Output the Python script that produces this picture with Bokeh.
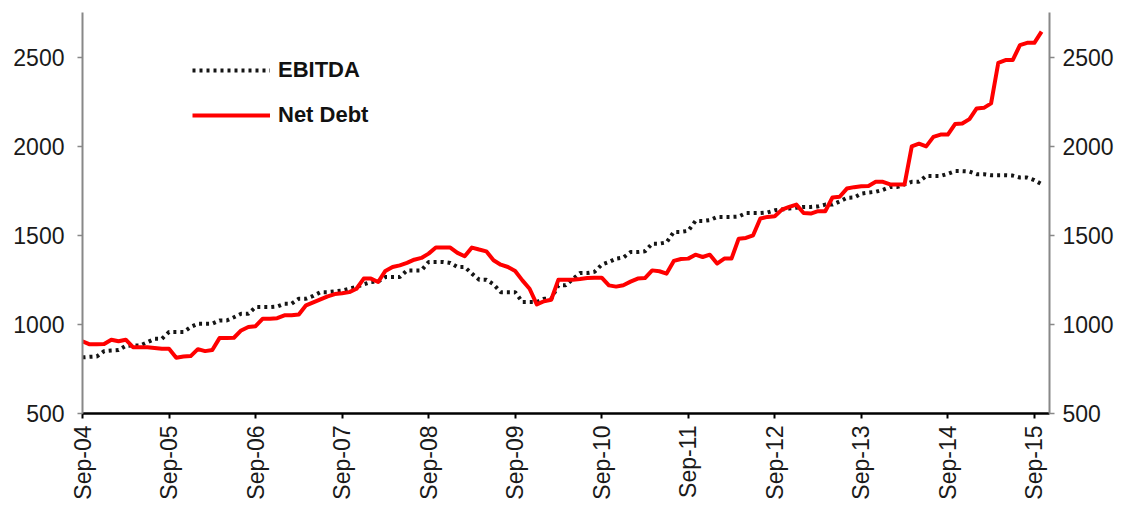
from bokeh.plotting import figure
from bokeh.models import Range1d, LinearAxis, FixedTicker, Legend, LegendItem
from bokeh.embed import file_html
from bokeh.resources import INLINE
import math

# Monthly data, Sep-04 (month 0) to Oct-15 (month 133)
ebitda = [815, 818, 820, 850, 854, 856, 880, 882, 882, 900, 919, 919,
          957, 957, 957, 985, 1004, 1004, 1004, 1022, 1022, 1040, 1060, 1060,
          1097, 1097, 1097, 1100, 1116, 1116, 1144, 1144, 1160, 1181, 1181, 1185,
          1190, 1200, 1210, 1225, 1238, 1240, 1266, 1266, 1266, 1303, 1303, 1303,
          1350, 1350, 1350, 1345, 1322, 1322, 1285, 1251, 1251, 1225, 1181, 1181,
          1181, 1125, 1125, 1125, 1144, 1144, 1219, 1219, 1255, 1288, 1288, 1295,
          1335, 1350, 1369, 1375, 1406, 1406, 1410, 1453, 1453, 1460, 1519, 1519,
          1525, 1580, 1580, 1585, 1603, 1603, 1603, 1605, 1625, 1625, 1625, 1628,
          1640, 1645, 1650, 1655, 1659, 1659, 1662, 1672, 1672, 1690, 1710, 1712,
          1734, 1740, 1744, 1755, 1771, 1771, 1785, 1800, 1800, 1833, 1833, 1833,
          1845, 1860, 1860, 1858, 1843, 1843, 1837, 1837, 1837, 1835, 1824, 1824,
          1809, 1787]

net_debt = [905, 888, 888, 890, 914, 905, 914, 872, 872, 872, 868, 863,
            863, 813, 820, 822, 861, 850, 856, 923, 923, 925, 966, 985,
            990, 1032, 1032, 1035, 1051, 1051, 1055, 1107, 1124, 1140, 1157, 1170,
            1175, 1181, 1200, 1257, 1257, 1238, 1300, 1322, 1331, 1345, 1363, 1373,
            1397, 1431, 1431, 1431, 1401, 1382, 1431, 1420, 1410, 1360, 1335, 1322,
            1300, 1247, 1200, 1112, 1130, 1138, 1251, 1251, 1251, 1255, 1260, 1262,
            1262, 1219, 1212, 1220, 1240, 1257, 1260, 1303, 1298, 1285, 1356, 1367,
            1369, 1391, 1378, 1391, 1341, 1369, 1369, 1481, 1485, 1500, 1594, 1603,
            1607, 1644, 1659, 1672, 1625, 1622, 1635, 1635, 1712, 1716, 1762, 1770,
            1775, 1777, 1800, 1800, 1785, 1785, 1785, 1999, 2014, 1999, 2052, 2065,
            2065, 2124, 2127, 2152, 2212, 2215, 2240, 2468, 2483, 2483, 2567, 2580,
            2580, 2643]

months = list(range(len(net_debt)))
tick_months = [0, 12, 24, 36, 48, 60, 72, 84, 96, 108, 120, 132]
tick_labels = ["Sep-04", "Sep-05", "Sep-06", "Sep-07", "Sep-08", "Sep-09",
               "Sep-10", "Sep-11", "Sep-12", "Sep-13", "Sep-14", "Sep-15"]
y_ticks = [500, 1000, 1500, 2000, 2500]

FONT = "Liberation Sans"
TICK_SIZE = "23px"

W, H = 1122, 506
p = figure(width=W, height=H, output_backend="svg", toolbar_location=None,
           x_range=Range1d(0, 134.1), y_range=Range1d(500, 2750),
           min_border_left=82, min_border_right=W - 1049, min_border_top=12,
           min_border_bottom=H - 413)
p.outline_line_color = None
p.xgrid.visible = False
p.ygrid.visible = False
p.background_fill_color = "white"
p.border_fill_color = "white"

r_e = p.line(months[:len(ebitda)], ebitda, line_color="#151515", line_width=4,
             line_dash="3 4", line_cap="butt")
r_n = p.line(months, net_debt, line_color="#ff0000", line_width=4,
             line_join="round")

# x axis
xa = p.xaxis[0]
xa.ticker = FixedTicker(ticks=tick_months)
xa.major_label_overrides = {m: l for m, l in zip(tick_months, tick_labels)}
xa.major_label_orientation = math.pi / 2
xa.axis_line_color = "black"
xa.axis_line_width = 2.5
xa.major_tick_line_color = "black"
xa.major_tick_line_width = 2
xa.major_tick_out = 5
xa.major_tick_in = 0
xa.minor_tick_line_color = None
xa.major_label_standoff = 7
xa.major_label_text_font = FONT
xa.major_label_text_font_size = TICK_SIZE
xa.major_label_text_color = "#1a1a1a"

# left y axis
ya = p.yaxis[0]
ya.ticker = FixedTicker(ticks=y_ticks)
ya.axis_line_color = "#888888"
ya.axis_line_width = 2
ya.major_tick_line_color = "#888888"
ya.major_tick_line_width = 1.5
ya.major_tick_out = 5
ya.major_tick_in = 0
ya.minor_tick_line_color = None
ya.major_label_standoff = 13
ya.major_label_text_font = FONT
ya.major_label_text_font_size = TICK_SIZE
ya.major_label_text_color = "#1a1a1a"

# right y axis
ra = LinearAxis(ticker=FixedTicker(ticks=y_ticks))
ra.axis_line_color = "#888888"
ra.axis_line_width = 2
ra.major_tick_line_color = "#888888"
ra.major_tick_line_width = 1.5
ra.major_tick_out = 5
ra.major_tick_in = 0
ra.minor_tick_line_color = None
ra.major_label_standoff = 8
ra.major_label_text_font = FONT
ra.major_label_text_font_size = TICK_SIZE
ra.major_label_text_color = "#1a1a1a"
p.add_layout(ra, "right")

legend = Legend(items=[LegendItem(label="EBITDA", renderers=[r_e]),
                       LegendItem(label="Net Debt", renderers=[r_n])],
                location=(110, 285), orientation="vertical")
legend.border_line_color = None
legend.background_fill_alpha = 0
legend.padding = 0
legend.margin = 0
legend.glyph_width = 78
legend.glyph_height = 22
legend.label_height = 22
legend.spacing = 19
legend.label_standoff = 8
legend.label_text_font = FONT
legend.label_text_font_size = "22px"
legend.label_text_font_style = "bold"
legend.label_text_color = "#111111"
p.add_layout(legend, "center")

open("out.html", "w").write(file_html(p, INLINE))
